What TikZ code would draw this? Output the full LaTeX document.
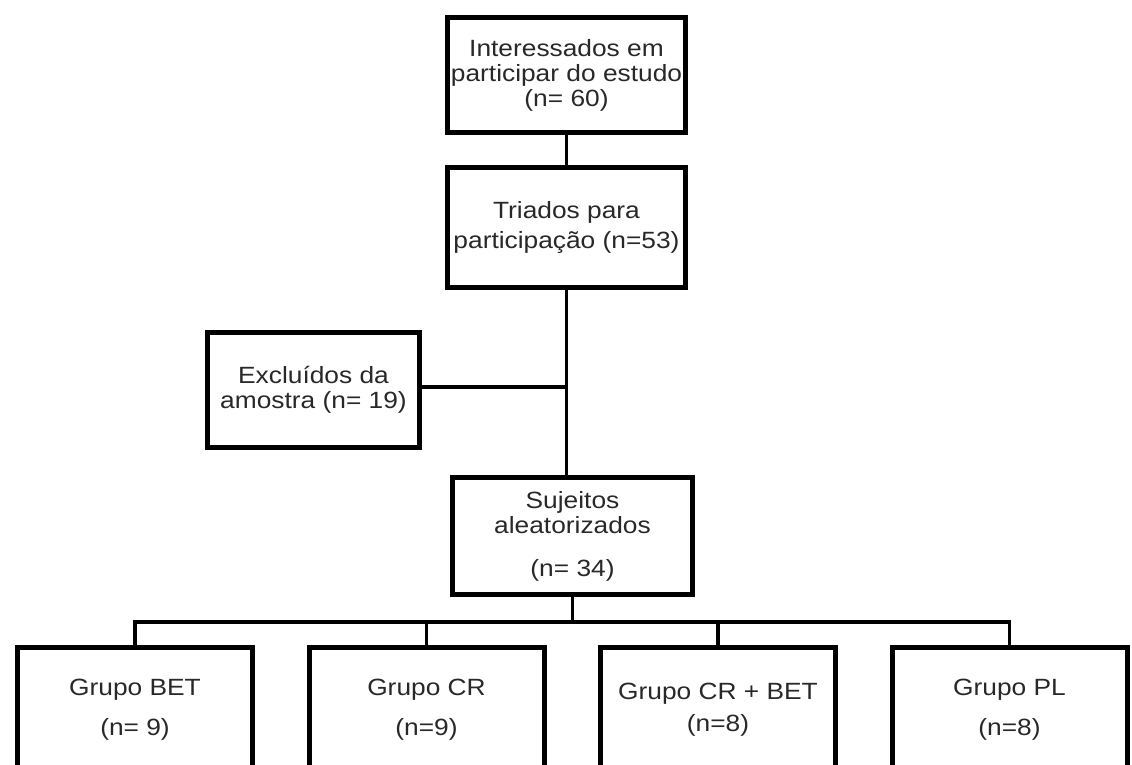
\documentclass[tikz,border=0pt]{standalone}
\usepackage{fontspec}
\setmainfont{Liberation Sans}[FakeStretch=1.12]
\usepackage{tikz}
\usetikzlibrary{positioning}
\definecolor{textgray}{RGB}{40, 40, 40}

\begin{document}
\begin{tikzpicture}[x=1pt, y=-1pt,
    etapa/.style={draw, line width=5pt, minimum width=#1, minimum height=115pt,
                  align=center, inner sep=2pt, text=textgray,
                  font=\fontsize{23.5}{25}\selectfont},
    etapa/.default=238pt,
    grupo/.style={etapa=235pt, minimum height=125pt},
    liga/.style={line width=3.5pt}
]
    \useasboundingbox (0,0) rectangle (1132,764);

    \node[etapa] (interesse) at (566.5,75) {Interessados em\\participar do estudo\\(n= 60)};
    \node[etapa, minimum height=120pt, below=30pt of interesse] (triados) {Triados para\\[5pt]participação (n=53)};
    \node[etapa=212pt] (excluidos) at (313.5,390) {Excluídos da\\amostra (n= 19)};
    \node[etapa=240pt, minimum height=117pt] (sujeitos) at (572.5,536) {Sujeitos\\aleatorizados\\[18pt](n= 34)};

    \node[grupo] (bet) at (135,710) {Grupo BET\\[15pt](n= 9)};
    \node[grupo, right=51.5pt of bet] (cr) {Grupo CR\\[15pt](n=9)};
    \node[grupo, right=51.5pt of cr] (crbet) {Grupo CR + BET\\[7pt](n=8)};
    \node[grupo, right=51.5pt of crbet] (pl) {Grupo PL\\[15pt](n=8)};

    \draw[liga] (interesse) -- (triados);
    \draw[liga] (triados.south) -- (triados.south |- sujeitos.north);
    \coordinate (juncao) at (triados.south |- 0,387);
    \draw[liga] (excluidos.east |- juncao) -- (juncao);

    \draw[liga] (sujeitos.south) -- ++(0,25) coordinate (barra);
    \draw[liga] (bet.north) |- (barra) -| (pl.north);
    \draw[liga] (cr.north) -- (cr.north |- barra);
    \draw[liga] (crbet.north) -- (crbet.north |- barra);
\end{tikzpicture}
\end{document}
